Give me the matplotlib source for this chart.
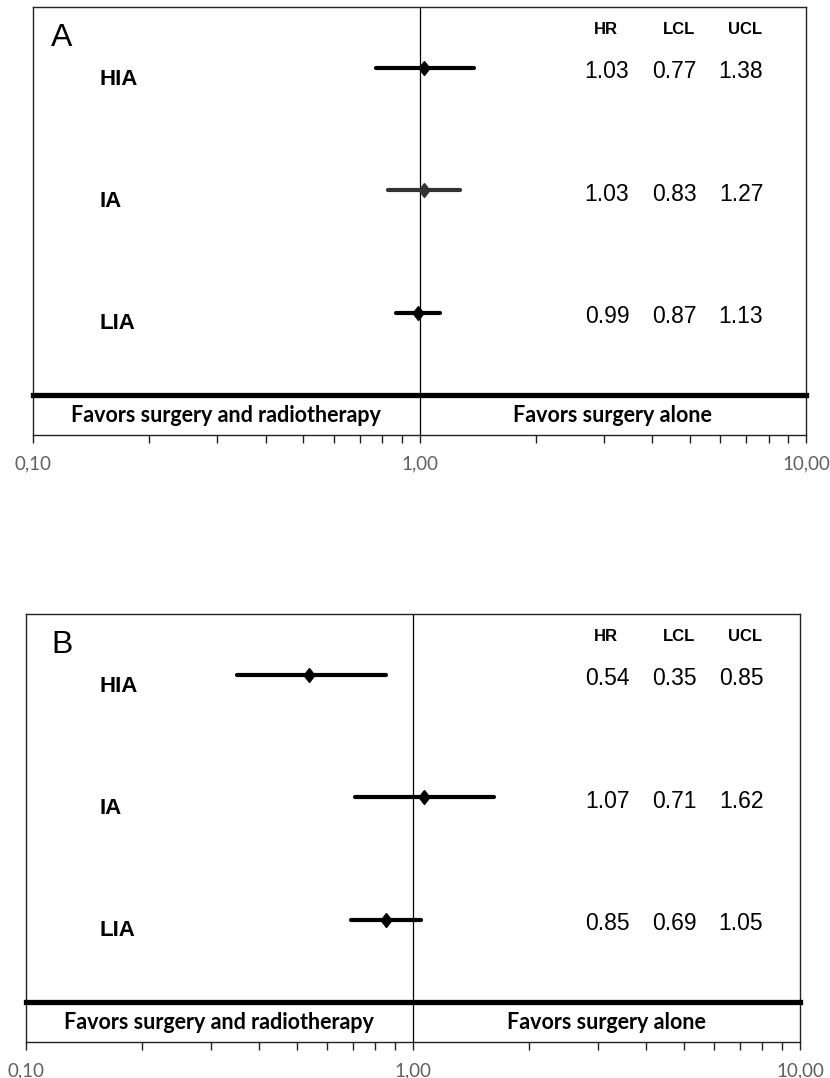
import matplotlib
matplotlib.use("Agg")
import matplotlib.pyplot as plt
import matplotlib.transforms as mtransforms
from matplotlib.ticker import FixedLocator, NullFormatter

groups = ["HIA", "IA", "LIA"]
hr_a = [1.03, 1.03, 0.99]
lcl_a = [0.77, 0.83, 0.87]
ucl_a = [1.38, 1.27, 1.13]
hr_b = [0.54, 1.07, 0.85]
lcl_b = [0.35, 0.71, 0.69]
ucl_b = [0.85, 1.62, 1.05]
tick_vals = [0.1, 1.0, 10.0]
tick_labels = ["0,10", "1,00", "10,00"]

W, H = 830, 1078
fig = plt.figure(figsize=(W / 100, H / 100), dpi=100)

diamond = [(0, 1), (0.78, 0), (0, -1), (-0.78, 0), (0, 1)]


def panel(rect, letter, hr, lcl, ucl, colors):
    l, t, r, b = rect
    ax = fig.add_axes([l / W, 1 - b / H, (r - l) / W, (b - t) / H])
    ax.set_xscale("log")
    ax.set_xlim(0.1, 10)
    ax.set_ylim(3.0, -0.5)
    for s in ["left", "right", "top", "bottom"]:
        ax.spines[s].set_linewidth(1.0)
        ax.spines[s].set_color("#222222")
    ax.set_yticks([])
    ax.xaxis.set_major_locator(FixedLocator(tick_vals))
    ax.set_xticklabels(tick_labels)
    minors = [m * d for d in (0.1, 1.0) for m in range(2, 10)]
    ax.xaxis.set_minor_locator(FixedLocator(minors))
    ax.xaxis.set_minor_formatter(NullFormatter())
    ax.tick_params(axis="x", which="both", direction="out", length=6,
                   width=1.0, color="#222222")
    ax.tick_params(axis="x", which="major", pad=9, labelsize=13.5,
                   labelcolor="#606060")
    for lab in ax.get_xticklabels():
        lab.set_family("Lato")

    ax.axvline(1.0, color="black", lw=0.9, zorder=1)
    ax.axhline(2.67, color="black", lw=3.8, zorder=3, clip_on=False)

    for i in range(len(groups)):
        ax.plot([lcl[i], ucl[i]], [i, i], color=colors[i], lw=3.0,
                solid_capstyle="round", zorder=4)
        ax.plot(hr[i], i, marker=diamond, markersize=10, color=colors[i],
                zorder=5)

    tr = mtransforms.blended_transform_factory(fig.transFigure, ax.transData)
    ax.text(62 / W, -0.25, letter, transform=tr, ha="center", va="center",
            fontsize=23, family="Liberation Sans")
    for x, h in zip([606, 679, 745], ["HR", "LCL", "UCL"]):
        ax.text(x / W, -0.32, h, transform=tr, ha="center", va="center",
                fontsize=12, fontweight="bold", family="Liberation Sans")
    for i, g in enumerate(groups):
        ax.text(99 / W, i + 0.09, g, transform=tr, ha="left", va="center",
                fontsize=16, fontweight="bold", family="Liberation Sans")
        for x, v in zip([607, 674, 741], [hr[i], lcl[i], ucl[i]]):
            ax.text(x / W, i + 0.03, f"{v:.2f}", transform=tr, ha="center",
                    va="center", fontsize=16.5, family="Liberation Sans")

    ax.text(0.316, 2.84, "Favors surgery and radiotherapy", ha="center",
            va="center", fontsize=15.5, fontweight="bold", family="Lato")
    ax.text(3.16, 2.84, "Favors surgery alone", ha="center",
            va="center", fontsize=15.5, fontweight="bold", family="Lato")
    return ax


panel((33, 7, 806, 435), "A", hr_a, lcl_a, ucl_a,
      ["black", "#333333", "black"])
panel((26, 614, 800, 1042), "B", hr_b, lcl_b, ucl_b,
      ["black", "black", "black"])

fig.savefig("out.png", dpi=100)
